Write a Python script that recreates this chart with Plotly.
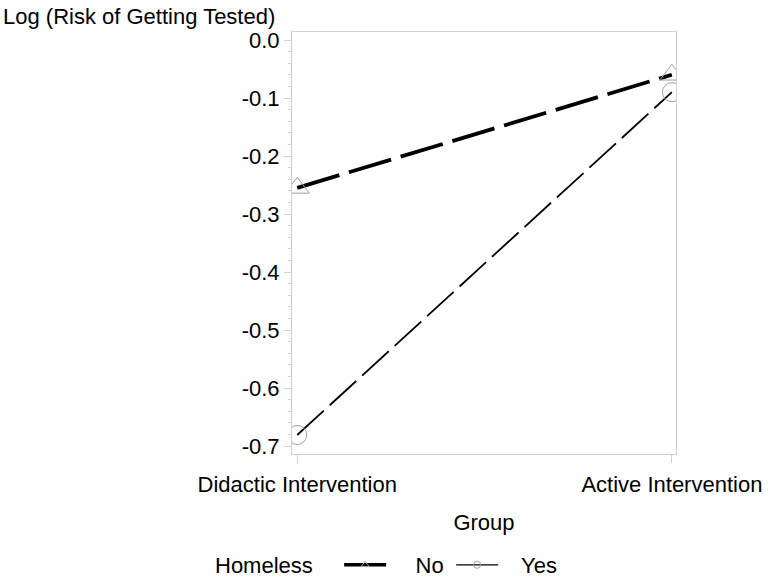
import plotly.graph_objects as go

groups = ["Didactic Intervention", "Active Intervention"]
no_vals = [-0.255, -0.060]
yes_vals = [-0.681, -0.090]
ytick_vals = [0.0, -0.1, -0.2, -0.3, -0.4, -0.5, -0.6, -0.7]
ytick_text = ["0.0", "-0.1", "-0.2", "-0.3", "-0.4", "-0.5", "-0.6", "-0.7"]

FONT = "Liberation Sans, Arial, sans-serif"
FS = 22
GRID = "#d0d0d0"
W, H = 768, 580
L, R, T, B = 292, 92, 32, 126
PW, PH = W - L - R, H - T - B

fig = go.Figure()
xi = [0, 1]
fig.add_trace(go.Scatter(
    x=xi, y=no_vals, mode="lines+markers", showlegend=False,
    line=dict(color="black", width=3.8, dash="44px,10px"),
    marker=dict(symbol="triangle-up-open", size=21, color="#a0a0a0", line=dict(width=1))))
fig.add_trace(go.Scatter(
    x=xi, y=yes_vals, mode="lines+markers", showlegend=False,
    line=dict(color="black", width=1.8, dash="36px,8px"),
    marker=dict(symbol="circle-open", size=19, color="#a0a0a0", line=dict(width=1))))
# legend entries
fig.add_trace(go.Scatter(
    x=[None], y=[None], mode="lines+markers", name="    No",
    line=dict(color="black", width=3.5),
    marker=dict(symbol="triangle-up-open", size=7, color="#a0a0a0")))
fig.add_trace(go.Scatter(
    x=[None], y=[None], mode="lines+markers", name="   Yes",
    line=dict(color="black", width=1.2),
    marker=dict(symbol="circle-open", size=7, color="#a0a0a0")))

fig.update_layout(
    width=W, height=H,
    margin=dict(l=L, r=R, t=T, b=B),
    paper_bgcolor="white", plot_bgcolor="white",
    font=dict(family=FONT, size=FS, color="black"),
    xaxis=dict(
        range=[-0.014, 1.011], tickvals=xi, ticktext=groups,
        showgrid=False, zeroline=False, showline=True, linecolor=GRID, mirror=True,
        ticks="outside", ticklen=8, tickcolor=GRID, automargin=False,
        ticklabeloverflow="allow", ticklabelstandoff=3,
        tickfont=dict(size=FS, family=FONT),
        title=dict(text="Group", standoff=18, font=dict(size=FS, family=FONT)),
    ),
    yaxis=dict(
        range=[-0.7138, 0.0138], tickvals=ytick_vals, ticktext=ytick_text,
        showgrid=False, zeroline=False, showline=True, linecolor=GRID, mirror=True,
        ticks="outside", ticklen=7, tickcolor=GRID, automargin=False,
        ticklabeloverflow="allow",
        tickfont=dict(size=FS, family=FONT),
        minor=dict(dtick=0.02, ticks="outside", ticklen=3, tickcolor=GRID),
    ),
    legend=dict(
        orientation="h", xref="container", x=213 / W, xanchor="left",
        yref="container", y=(H - 565) / H, yanchor="middle",
        title=dict(text="Homeless   ", side="left", font=dict(size=FS, family=FONT)),
        font=dict(size=FS, family=FONT), itemwidth=42, entrywidth=55,
    ),
)
fig.add_annotation(
    text="Log (Risk of Getting Tested)", xref="paper", yref="paper",
    x=(1 - L) / PW, y=1 + (T - 16) / PH, xanchor="left", yanchor="middle",
    showarrow=False, font=dict(size=FS, family=FONT))

# remove the default 8px page margin so the 768x580 figure fills the window exactly
fig.write_html("out.html", config={"displayModeBar": False},
               post_script="document.body.style.margin='0';")
